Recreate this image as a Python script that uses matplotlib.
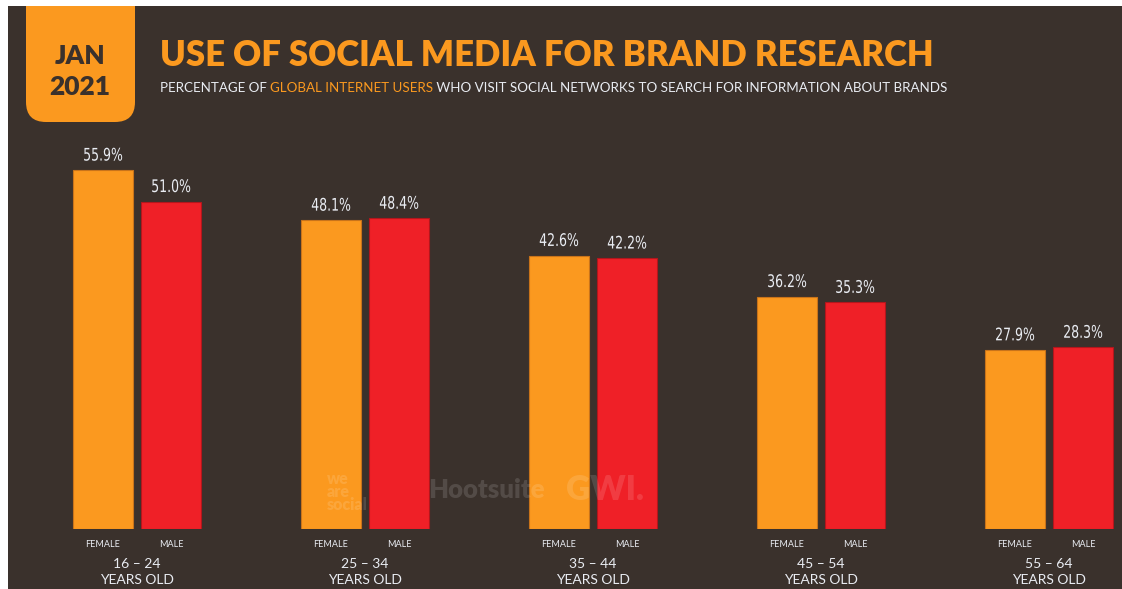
import matplotlib
matplotlib.use("Agg")
import matplotlib.pyplot as plt
from matplotlib.patches import FancyBboxPatch, Rectangle
from matplotlib.patheffects import AbstractPathEffect
from matplotlib.transforms import Affine2D
import numpy as np

# ---- data ----
age_groups = ["16 – 24", "25 – 34", "35 – 44", "45 – 54", "55 – 64"]
female = [55.9, 48.1, 42.6, 36.2, 27.9]
male = [51.0, 48.4, 42.2, 35.3, 28.3]
series_labels = ["FEMALE", "MALE"]

BG = "#3a312c"
ORANGE = "#fb991f"
RED = "#ef2027"
LIGHT = "#e9ecf2"


class Squeeze(AbstractPathEffect):
    """Horizontally condense text around its centre."""
    def __init__(self, sx):
        super().__init__()
        self.sx = sx

    def draw_path(self, renderer, gc, tpath, affine, rgbFace=None):
        ext = tpath.get_extents(affine)
        cx = (ext.x0 + ext.x1) / 2
        aff = affine + Affine2D().translate(-cx, 0).scale(self.sx, 1).translate(cx, 0)
        renderer.draw_path(gc, tpath, aff, rgbFace)


W, H = 1122, 589
fig = plt.figure(figsize=(W / 100, H / 100), dpi=100, facecolor="white")

# decorative overlay axes in pixel coordinates
deco = fig.add_axes([0, 0, 1, 1], zorder=0)
deco.set_xlim(0, W)
deco.set_ylim(H, 0)
deco.axis("off")
deco.add_patch(Rectangle((8, 6), W - 8, H - 6, facecolor=BG, edgecolor="none", zorder=0))
deco.add_patch(FancyBboxPatch((26, -40), 109, 162, boxstyle="round,pad=0,rounding_size=20",
                              facecolor=ORANGE, edgecolor="none", zorder=1))
deco.add_patch(Rectangle((0, 0), W, 6, facecolor="white", edgecolor="none", zorder=2))

fnt = ["Lato", "DejaVu Sans"]
deco.text(80, 56, "JAN", ha="center", va="center", fontsize=19, fontweight="heavy",
          color=BG, family=fnt, zorder=3)
deco.text(80, 87, "2021", ha="center", va="center", fontsize=19, fontweight="heavy",
          color=BG, family=fnt, zorder=3)

# title
deco.text(160, 55, "USE OF SOCIAL MEDIA FOR BRAND RESEARCH", ha="left", va="center",
          fontsize=24.9, fontweight="heavy", color=ORANGE, family=fnt)

# subtitle with mixed colours
parts = [("PERCENTAGE OF ", LIGHT), ("GLOBAL INTERNET USERS", ORANGE),
         (" WHO VISIT SOCIAL NETWORKS TO SEARCH FOR INFORMATION ABOUT BRANDS", LIGHT)]
renderer = fig.canvas.get_renderer()
x0 = 160
for txt, col in parts:
    t = deco.text(x0, 88, txt, ha="left", va="center", fontsize=9.65, color=col, family=fnt)
    bb = t.get_window_extent(renderer=renderer)
    x0 = deco.transData.inverted().transform((bb.x1, bb.y0))[0]

# ---- bars ----
group_px0 = 137
group_step = 228
left_lim = -group_px0 / group_step
right_lim = (W - group_px0) / group_step
base_px = 60
ax_h_px = 380
px_per_pct = 6.42
ax = fig.add_axes([0, base_px / H, 1, ax_h_px / H], zorder=2)
ax.set_xlim(left_lim, right_lim)
ax.set_ylim(0, ax_h_px / px_per_pct)
ax.axis("off")
ax.patch.set_alpha(0)

x = np.arange(len(age_groups))
off = 34 / group_step
bw = 60 / group_step
ax.bar(x - off, female, width=bw, color=ORANGE, edgecolor="#c8731a", linewidth=0.8, zorder=2)
ax.bar(x + off, male, width=bw, color=RED, edgecolor="#b3161c", linewidth=0.8, zorder=2)

squeeze = [Squeeze(0.72)]
for xs, vals in ((x - off, female), (x + off, male)):
    for xi, v in zip(xs, vals):
        ax.annotate(f"{v:.1f}%", (xi, v), xytext=(0, 4), textcoords="offset points",
                    ha="center", va="bottom", fontsize=12.5, color=LIGHT,
                    family="DejaVu Sans", fontweight="medium", path_effects=squeeze)

for xi in x:
    ax.annotate(series_labels[0], (xi - off, 0), xytext=(0, -11), textcoords="offset points",
                ha="center", va="center", fontsize=6.5, color=LIGHT, family=fnt)
    ax.annotate(series_labels[1], (xi + off, 0), xytext=(0, -11), textcoords="offset points",
                ha="center", va="center", fontsize=6.5, color=LIGHT, family=fnt)
    ax.annotate(age_groups[xi], (xi, 0), xytext=(0, -25.5), textcoords="offset points",
                ha="center", va="center", fontsize=10, color=LIGHT, family=fnt)
    ax.annotate("YEARS OLD", (xi, 0), xytext=(0, -37), textcoords="offset points",
                ha="center", va="center", fontsize=10, color=LIGHT, family=fnt)

# faint watermarks (on top of bars)
wm = dict(color="white", alpha=0.13, fontweight="heavy", family=fnt, zorder=5)
fig.text(327 / W, 1 - 471 / H, "we\nare\nsocial", ha="left", va="top", fontsize=11.5,
         linespacing=0.78, **wm)
fig.text(428 / W, 1 - 490 / H, "Hootsuite", ha="left", va="center", fontsize=18.5, **wm)
fig.text(566 / W, 1 - 490 / H, "GWI.", ha="left", va="center", fontsize=24, **wm)

fig.savefig("out.png", dpi=100, facecolor=fig.get_facecolor())
